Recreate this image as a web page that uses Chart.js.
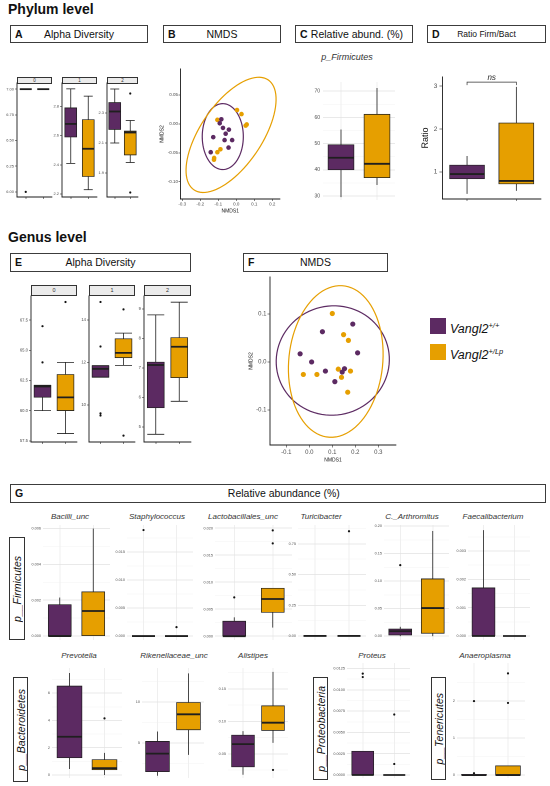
<!DOCTYPE html>
<html>
<head>
<meta charset="utf-8">
<title>Vangl2 microbiota</title>
<script src="https://cdn.jsdelivr.net/npm/chart.js@4.4.1/dist/chart.umd.min.js"></script>
<style>
  body { margin: 0; width: 550px; height: 786px; position: relative; overflow: hidden; background: #fff;
         font-family: "Liberation Sans", Arial, sans-serif; color: #111; }
  canvas { position: absolute; }
  .lvl { position: absolute; left: 8px; font-weight: bold; font-size: 14px; }
  .hdr { position: absolute; box-sizing: border-box; border: 1px solid #3c3c3c; background: #fff;
         font-size: 10.5px; text-align: center; white-space: nowrap; }
  .hdr b { position: absolute; left: 4px; font-size: 10.5px; }
  .strip { position: absolute; box-sizing: border-box; border: 0.8px solid #333; background: #ebebeb;
           text-align: center; color: #333; }
  .gt { position: absolute; font-style: italic; font-size: 8px; color: #333; transform: translateX(-50%); white-space: nowrap; }
  .ptitle { position: absolute; font-style: italic; font-size: 9px; color: #333; transform: translateX(-50%); white-space: nowrap; }
  .rowlab { position: absolute; box-sizing: border-box; border: 1px solid #333; display: flex;
            align-items: center; justify-content: center; background: #fff; }
  .rowlab span { writing-mode: vertical-rl; transform: rotate(180deg); font-style: italic; font-size: 10.5px; white-space: nowrap; }
  .leg { position: absolute; left: 430px; width: 16px; height: 16px; }
  .legt { position: absolute; left: 450px; font-style: italic; font-size: 12.5px; line-height: 16px; }
  .legt sup { font-size: 7.5px; }
</style>
</head>
<body>

<div class="lvl" style="top:1px">Phylum level</div>
<div class="hdr" style="left:10px;top:25px;width:138px;height:18px;line-height:16px"><b>A</b>Alpha Diversity</div>
<div class="hdr" style="left:163px;top:25px;width:118px;height:18px;line-height:16px"><b>B</b>NMDS</div>
<div class="hdr" style="left:295px;top:25px;width:118px;height:18px;line-height:16px"><b>C</b>&nbsp;&nbsp;Relative abund. (%)</div>
<div class="hdr" style="left:427px;top:25px;width:119px;height:18px;line-height:16px;font-size:8.5px"><b>D</b>Ratio Firm/Bact</div>

<div class="strip" style="left:17px;top:77px;width:35px;height:6.5px;font-size:4.5px;line-height:5px">0</div>
<div class="strip" style="left:62px;top:77px;width:35px;height:6.5px;font-size:4.5px;line-height:5px">1</div>
<div class="strip" style="left:107px;top:77px;width:31px;height:6.5px;font-size:4.5px;line-height:5px">2</div>
<div class="ptitle" style="left:347px;top:52px">p_Firmicutes</div>

<div class="lvl" style="top:229px">Genus level</div>
<div class="hdr" style="left:10px;top:253px;width:181px;height:19px;line-height:17px"><b>E</b>Alpha Diversity</div>
<div class="hdr" style="left:243px;top:253px;width:145px;height:19px;line-height:17px"><b>F</b>NMDS</div>

<div class="strip" style="left:31px;top:285px;width:46px;height:11px;font-size:5.5px;line-height:9px">0</div>
<div class="strip" style="left:89px;top:285px;width:46px;height:11px;font-size:5.5px;line-height:9px">1</div>
<div class="strip" style="left:144px;top:285px;width:47px;height:11px;font-size:5.5px;line-height:9px">2</div>

<div class="leg" style="top:318px;background:#5c2a62"></div>
<div class="legt" style="top:318px">Vangl2<sup>+/+</sup></div>
<div class="leg" style="top:344px;background:#e69f00"></div>
<div class="legt" style="top:344px">Vangl2<sup>+/Lp</sup></div>

<div class="hdr" style="left:10px;top:484px;width:536px;height:19px;line-height:17px"><b>G</b>&nbsp;&nbsp;&nbsp;&nbsp;Relative abundance (%)</div>

<div class="gt" style="left:70px;top:512px">Bacilli_unc</div>
<div class="gt" style="left:157px;top:512px">Staphylococcus</div>
<div class="gt" style="left:243px;top:512px">Lactobacillales_unc</div>
<div class="gt" style="left:321px;top:512px">Turicibacter</div>
<div class="gt" style="left:412px;top:512px">C._Arthromitus</div>
<div class="gt" style="left:493px;top:512px">Faecalibacterium</div>
<div class="gt" style="left:79px;top:651px">Prevotella</div>
<div class="gt" style="left:174px;top:651px">Rikenellaceae_unc</div>
<div class="gt" style="left:253px;top:651px">Alistipes</div>
<div class="gt" style="left:372px;top:651px">Proteus</div>
<div class="gt" style="left:485px;top:651px">Anaeroplasma</div>

<div class="rowlab" style="left:9px;top:537px;width:16px;height:103px"><span>p__Firmicutes</span></div>
<div class="rowlab" style="left:13px;top:677px;width:15px;height:105px"><span>p__Bacteroidetes</span></div>
<div class="rowlab" style="left:313px;top:677px;width:15px;height:103px"><span>p__Proteobacteria</span></div>
<div class="rowlab" style="left:431px;top:677px;width:15px;height:103px"><span>p__Tenericutes</span></div>

<script>
// groups: Vangl2+/+ and Vangl2+/Lp
const groups = ['wt', 'lp'];
const PURPLE = '#5c2a62';
const ORANGE = '#e69f00';

// box stats per group: [lower whisker, Q1, median, Q3, upper whisker]
// phylum level alpha diversity, facets 0 / 1 / 2
const phyAlpha0 = [[7.0, 7.0, 7.0, 7.0, 7.0], [7.0, 7.0, 7.0, 7.0, 7.0]];
const phyAlpha0Out = [[6.0], []];
const phyAlpha1 = [[2.41, 2.59, 2.68, 2.79, 2.92], [2.23, 2.32, 2.51, 2.71, 2.87]];
const phyAlpha1Out = [[], []];
const phyAlpha2 = [[2.10, 2.19, 2.31, 2.37, 2.46], [1.97, 2.02, 2.17, 2.18, 2.25]];
const phyAlpha2Out = [[], [2.43, 1.77]];

// phylum NMDS [NMDS1, NMDS2]
const phyNmdsWT = [[-0.083, 0.008], [-0.092, 0.001], [-0.074, -0.007], [-0.041, -0.010], [-0.128, -0.023],
                   [-0.059, -0.017], [-0.023, -0.028], [-0.065, -0.028], [-0.043, -0.041], [-0.142, -0.049]];
const phyNmdsLP = [[-0.105, 0.007], [0.004, 0.024], [0.029, 0.017], [0.058, -0.001], [0.052, -0.003],
                   [-0.088, -0.044], [-0.105, -0.049], [-0.123, -0.059], [-0.124, -0.062]];
// ellipses: centre, two half-axis vectors (data units)
const phyEllWT = {c: [-0.075, -0.022], u: [0.114, 0.003], v: [-0.006, 0.057]};
const phyEllLP = {c: [-0.029, -0.019], u: [0.215, 0.093], v: [-0.128, 0.036]};

const firmAbund = [[29.6, 40.0, 44.6, 49.6, 55.4], [34.2, 37.0, 42.3, 61.2, 71.2]];
const firmBactRatio = [[0.49, 0.84, 0.95, 1.16, 1.37], [0.56, 0.72, 0.79, 2.14, 2.98]];

// genus level alpha diversity
const genAlpha0 = [[60.0, 61.1, 62.0, 62.1, 62.1], [58.1, 60.0, 61.1, 63.0, 64.0]];
const genAlpha0Out = [[67.0, 64.0], [69.0]];
const genAlpha1 = [[11.3, 11.3, 11.7, 11.85, 11.85], [11.86, 12.22, 12.45, 13.12, 13.38]];
const genAlpha1Out = [[14.85, 12.75, 9.6, 9.5], [14.5, 8.55]];
const genAlpha2 = [[4.75, 5.65, 7.1, 7.2, 8.8], [5.87, 6.67, 7.72, 8.03, 9.23]];
const genAlpha2Out = [[], []];

// genus NMDS
const genNmdsWT = [[0.057, 0.063], [0.189, 0.079], [-0.040, 0.017], [0.010, 0.000], [0.070, -0.019],
                   [0.111, -0.041], [0.143, -0.021], [0.153, -0.014], [0.210, 0.019]];
const genNmdsLP = [[0.100, 0.101], [0.149, 0.057], [0.170, 0.045], [-0.026, -0.026], [0.033, -0.026],
                   [0.126, -0.015], [0.140, -0.032], [0.179, -0.019], [0.167, -0.063]];
const genEllWT = {c: [0.102, 0.003], u: [0.246, 0], v: [0.005, 0.114]};
const genEllLP = {c: [0.115, 0.001], u: [0.205, 0], v: [0.02, 0.158]};

// relative abundance of genera
const bacilli = [[0, 0, 0, 0.00176, 0.00215], [0, 0, 0.0014, 0.00247, 0.006]];
const bacilliOut = [[], []];
const staph = [[0, 0, 0, 0, 0], [0, 0, 0, 0, 0]];
const staphOut = [[0.0189], [0.0016]];
const lacto = [[0, 0, 0, 0.0028, 0.0035], [0.0016, 0.0044, 0.0069, 0.0089, 0.0089]];
const lactoOut = [[0.0072], [0.0196, 0.0172]];
const turici = [[0, 0, 0, 0, 0], [0, 0, 0, 0, 0]];
const turiciOut = [[], [0.853]];
const arthro = [[0, 0.002, 0.009, 0.013, 0.017], [0, 0.005, 0.051, 0.104, 0.191]];
const arthroOut = [[0.129], []];
const faecali = [[0, 0, 0, 0.0017, 0.00374], [0, 0, 0, 0, 0]];
const faecaliOut = [[], []];
const prevo = [[0.44, 1.26, 2.8, 6.52, 7.47], [0, 0.38, 0.5, 1.13, 1.62]];
const prevoOut = [[], [4.15]];
const riken = [[1.0, 1.5, 3.7, 5.2, 6.4], [3.55, 6.6, 8.5, 9.95, 13.5]];
const rikenOut = [[], []];
const alist = [[0.018, 0.030, 0.065, 0.079, 0.085], [0.067, 0.086, 0.098, 0.124, 0.176]];
const alistOut = [[], [0.0254]];
const proteus = [[0, 0, 0, 0.0028, 0.0028], [0, 0, 0, 0, 0]];
const proteusOut = [[0.0119, 0.0115], [0.0071, 0.0013]];
const anaero = [[0, 0, 0, 0.02, 0.02], [0, 0, 0, 0.25, 0.25]];
const anaeroOut = [[2.0, 0.05], [2.75, 1.95]];

Chart.defaults.font.family = '"Liberation Sans", Arial, sans-serif';
Chart.defaults.color = '#4d4d4d';
Chart.defaults.animation = false;
Chart.defaults.events = [];
Chart.defaults.plugins.legend.display = false;
Chart.defaults.plugins.tooltip.enabled = false;

const PAD = 8;

function makeCanvas(area, yw, xh) {
  const [l, t, r, b] = area;
  const c = document.createElement('canvas');
  const w = r - l + yw + 2 * PAD, h = b - t + xh + 2 * PAD;
  c.width = w; c.height = h;
  c.style.left = (l - yw - PAD) + 'px';
  c.style.top = (t - PAD) + 'px';
  c.style.width = w + 'px';
  c.style.height = h + 'px';
  document.body.appendChild(c);
  return c;
}

function valueAxis(o) {
  const major = o.ticks, minor = o.minor || [];
  const minimal = o.theme === 'minimal';
  return {
    type: 'linear', min: o.range[0], max: o.range[1],
    afterBuildTicks: s => { s.ticks = major.concat(minor).sort((a, b) => a - b).map(v => ({value: v})); },
    afterFit: s => { if (s.isHorizontal()) s.height = o.size; else s.width = o.size; },
    ticks: {
      autoSkip: false, maxRotation: 0, padding: o.tpad ?? 1, font: {size: o.fs}, color: '#4d4d4d',
      callback: v => major.includes(v) ? v.toFixed(o.dec) : ''
    },
    grid: minimal
      ? {drawTicks: false, color: c => (c.tick && major.includes(c.tick.value)) ? '#e2e2e2' : '#f0f0f0',
         lineWidth: c => (c.tick && major.includes(c.tick.value)) ? 0.7 : 0.4}
      : {drawOnChartArea: false, tickLength: o.tl || 2, color: '#333', lineWidth: 0.6},
    border: minimal ? {display: false} : {display: true, color: '#1a1a1a', width: 0.9},
    title: o.title ? {display: true, text: o.title, font: {size: o.tfs}, color: '#111', padding: 0} : {display: false}
  };
}

const boxLines = {
  id: 'boxLines',
  afterDatasetsDraw(chart, args, opts) {
    const {ctx} = chart, x = chart.scales.x, y = chart.scales.y;
    const seg = (x0, y0, x1, y1, w) => {
      ctx.lineWidth = w; ctx.beginPath(); ctx.moveTo(x0, y0); ctx.lineTo(x1, y1); ctx.stroke();
    };
    ctx.save();
    ctx.strokeStyle = '#1f1f1f';
    opts.stats.forEach((s, i) => {
      const px = x.getPixelForValue(i);
      const py = s.map(v => y.getPixelForValue(v));
      seg(px, py[0], px, py[1], 0.8);
      seg(px, py[3], px, py[4], 0.8);
      if (opts.cap) {
        const h = opts.cap / 2;
        seg(px - h, py[0], px + h, py[0], 0.8);
        seg(px - h, py[4], px + h, py[4], 0.8);
      }
      seg(px - opts.width / 2, py[2], px + opts.width / 2, py[2], 1.8);
    });
    ctx.restore();
  }
};

const nsBracket = {
  id: 'nsBracket',
  afterDraw(chart, args, o) {
    if (!o.label) return;
    const {ctx} = chart, x = chart.scales.x, y = chart.scales.y;
    const x0 = x.getPixelForValue(0), x1 = x.getPixelForValue(1);
    const yb = y.getPixelForValue(o.y), yt = y.getPixelForValue(o.y - o.drop);
    ctx.save();
    ctx.strokeStyle = '#333'; ctx.lineWidth = 0.7;
    ctx.beginPath(); ctx.moveTo(x0, yt); ctx.lineTo(x0, yb); ctx.lineTo(x1, yb); ctx.lineTo(x1, yt); ctx.stroke();
    ctx.font = 'italic 8px "Liberation Sans", Arial';
    ctx.fillStyle = '#222'; ctx.textAlign = 'center'; ctx.textBaseline = 'bottom';
    ctx.fillText(o.label, (x0 + x1) / 2, yb - 0.5);
    ctx.restore();
  }
};

const ellipses = {
  id: 'ellipses',
  beforeDatasetsDraw(chart, args, opts) {
    const {ctx} = chart, x = chart.scales.x, y = chart.scales.y;
    ctx.save();
    ctx.lineWidth = 1.2;
    opts.list.forEach(e => {
      ctx.strokeStyle = e.color;
      ctx.beginPath();
      for (let k = 0; k <= 90; k++) {
        const t = k / 90 * Math.PI * 2;
        const dx = e.c[0] + Math.cos(t) * e.u[0] + Math.sin(t) * e.v[0];
        const dy = e.c[1] + Math.cos(t) * e.u[1] + Math.sin(t) * e.v[1];
        const px = x.getPixelForValue(dx), py = y.getPixelForValue(dy);
        if (k === 0) ctx.moveTo(px, py); else ctx.lineTo(px, py);
      }
      ctx.stroke();
    });
    ctx.restore();
  }
};

function boxChart(area, stats, outs, o) {
  const xh = o.xh ?? 3;
  const canvas = makeCanvas(area, o.yw, xh);
  const minimal = o.theme === 'minimal';
  const pts = [];
  outs.forEach((arr, g) => arr.forEach(v => pts.push({x: groups[g], y: v})));
  new Chart(canvas, {
    type: 'bar',
    data: {
      labels: groups,
      datasets: [{
        data: stats.map(s => [s[1], s[3]]),
        backgroundColor: [PURPLE, ORANGE],
        borderColor: '#1f1f1f', borderWidth: 0.8, borderSkipped: false,
        barThickness: o.bw
      }, {
        type: 'scatter', data: pts, pointRadius: 1.1, backgroundColor: '#111', borderWidth: 0
      }]
    },
    options: {
      responsive: false, devicePixelRatio: 2,
      layout: {padding: PAD, autoPadding: false},
      scales: {
        x: {
          offset: true,
          ticks: {display: false},
          grid: minimal
            ? {offset: false, drawTicks: false, color: '#e4e4e4', lineWidth: 0.6}
            : {offset: false, drawOnChartArea: false, tickLength: 2, color: '#333', lineWidth: 0.6},
          border: minimal ? {display: false} : {display: true, color: '#1a1a1a', width: 0.9},
          afterFit: s => { s.height = xh; }
        },
        y: valueAxis(Object.assign({size: o.yw}, o))
      },
      plugins: {
        boxLines: {stats: stats, width: o.bw, cap: o.cap || 0},
        nsBracket: o.ns || {}
      }
    },
    plugins: [boxLines, nsBracket]
  });
}

function nmdsChart(area, wt, lp, ells, o) {
  const canvas = makeCanvas(area, o.yw, o.xh);
  new Chart(canvas, {
    type: 'scatter',
    data: {
      datasets: [
        {data: wt.map(p => ({x: p[0], y: p[1]})), backgroundColor: PURPLE, pointRadius: o.pr, borderWidth: 0},
        {data: lp.map(p => ({x: p[0], y: p[1]})), backgroundColor: ORANGE, pointRadius: o.pr, borderWidth: 0}
      ]
    },
    options: {
      responsive: false, devicePixelRatio: 2,
      layout: {padding: PAD, autoPadding: false},
      scales: {
        x: valueAxis(Object.assign({size: o.xh}, o.x)),
        y: valueAxis(Object.assign({size: o.yw}, o.y))
      },
      plugins: {
        ellipses: {list: [Object.assign({color: PURPLE}, ells[0]), Object.assign({color: ORANGE}, ells[1])]}
      }
    },
    plugins: [ellipses]
  });
}

// ---- A: phylum alpha diversity
const aOpt = {yw: 14, fs: 4, bw: 12, cap: 9};
boxChart([17, 83, 52, 197], phyAlpha0, phyAlpha0Out,
  Object.assign({range: [5.95, 7.06], ticks: [6.0, 6.25, 6.5, 6.75, 7.0], dec: 2}, aOpt));
boxChart([62, 83, 97, 197], phyAlpha1, phyAlpha1Out,
  Object.assign({range: [2.18, 2.96], ticks: [2.2, 2.4, 2.6, 2.8], dec: 1}, aOpt));
boxChart([107, 83, 138, 197], phyAlpha2, phyAlpha2Out,
  Object.assign({range: [1.74, 2.5], ticks: [1.9, 2.1, 2.3], dec: 1}, aOpt));

// ---- B: phylum NMDS
nmdsChart([180, 69, 280, 199], phyNmdsWT, phyNmdsLP, [phyEllWT, phyEllLP], {
  yw: 21.5, xh: 15, pr: 2.3,
  x: {range: [-0.31, 0.243], ticks: [-0.3, -0.2, -0.1, 0, 0.1, 0.2], dec: 1, fs: 4.5, tl: 2, tpad: 0.5, title: 'NMDS1', tfs: 5},
  y: {range: [-0.13, 0.095], ticks: [-0.1, -0.05, 0, 0.05], dec: 2, fs: 4.5, tl: 2, tpad: 0.5, title: 'NMDS2', tfs: 5}
});

// ---- C: relative abundance Firmicutes
boxChart([323, 82, 395, 200], firmAbund, [[], []], {
  theme: 'minimal', yw: 14, fs: 5, bw: 26, range: [28.5, 73.5],
  ticks: [30, 40, 50, 60, 70], minor: [35, 45, 55, 65], dec: 0, tpad: 3
});

// ---- D: Firmicutes / Bacteroidetes ratio
boxChart([442, 77, 541, 199], firmBactRatio, [[], []], {
  yw: 22.4, fs: 6.5, bw: 35, range: [0.37, 3.21], ticks: [1, 2, 3], dec: 0, tl: 3, tpad: 2,
  title: 'Ratio', tfs: 9, ns: {label: 'ns', y: 3.09, drop: 0.07}
});

// ---- E: genus alpha diversity
const eOpt = {yw: 20, fs: 4.2, bw: 17, cap: 17};
boxChart([31, 296, 77, 442], genAlpha0, genAlpha0Out,
  Object.assign({range: [57.4, 69.5], ticks: [57.5, 60, 62.5, 65, 67.5], dec: 1}, eOpt));
boxChart([89, 296, 135, 442], genAlpha1, genAlpha1Out,
  Object.assign({range: [8.25, 15.13], ticks: [10, 12, 14], dec: 0}, eOpt));
boxChart([144, 296, 191, 442], genAlpha2, genAlpha2Out,
  Object.assign({range: [4.49, 9.44], ticks: [5, 6, 7, 8, 9], dec: 0}, eOpt));

// ---- F: genus NMDS
nmdsChart([270, 277, 396, 445], genNmdsWT, genNmdsLP, [genEllWT, genEllLP], {
  yw: 22, xh: 18, pr: 2.6,
  x: {range: [-0.171, 0.377], ticks: [-0.1, 0, 0.1, 0.2, 0.3], dec: 1, fs: 6, tl: 2.5, tpad: 1, title: 'NMDS1', tfs: 5},
  y: {range: [-0.173, 0.177], ticks: [-0.1, 0, 0.1], dec: 1, fs: 6, tl: 2.5, tpad: 1, title: 'NMDS2', tfs: 5}
});

// ---- G: genus relative abundance
const gOpt = {theme: 'minimal', yw: 18, fs: 3.8, tpad: 2};
boxChart([43, 525, 110, 640], bacilli, bacilliOut, Object.assign({bw: 23, range: [-0.00022, 0.0062],
  ticks: [0, 0.002, 0.004, 0.006], minor: [0.001, 0.003, 0.005], dec: 3}, gOpt));
boxChart([127, 525, 193, 640], staph, staphOut, Object.assign({bw: 23, range: [-0.0007, 0.0198],
  ticks: [0, 0.005, 0.01, 0.015], minor: [0.0025, 0.0075, 0.0125, 0.0175], dec: 3}, gOpt));
boxChart([215, 525, 292, 640], lacto, lactoOut, Object.assign({bw: 23, range: [-0.0007, 0.0206],
  ticks: [0, 0.005, 0.01, 0.015, 0.02], minor: [0.0025, 0.0075, 0.0125, 0.0175], dec: 3}, gOpt));
boxChart([298, 525, 366, 640], turici, turiciOut, Object.assign({bw: 23, range: [-0.033, 0.904],
  ticks: [0, 0.25, 0.5, 0.75], minor: [0.125, 0.375, 0.625, 0.875], dec: 2}, gOpt));
boxChart([384, 525, 449, 640], arthro, arthroOut, Object.assign({bw: 23, range: [-0.007, 0.2018],
  ticks: [0, 0.05, 0.1, 0.15, 0.2], minor: [0.025, 0.075, 0.125, 0.175], dec: 2}, gOpt));
boxChart([468, 525, 530, 640], faecali, faecaliOut, Object.assign({bw: 23, range: [-0.00014, 0.00392],
  ticks: [0, 0.001, 0.002, 0.003], minor: [0.0005, 0.0015, 0.0025, 0.0035], dec: 3}, gOpt));
boxChart([52, 668, 122, 778], prevo, prevoOut, Object.assign({bw: 25, range: [-0.22, 7.84],
  ticks: [0, 2, 4, 6], minor: [1, 3, 5, 7], dec: 0}, gOpt));
boxChart([142, 668, 204, 778], riken, rikenOut, Object.assign({bw: 24, range: [0.73, 14.15],
  ticks: [5, 10], minor: [2.5, 7.5, 12.5], dec: 0}, gOpt));
boxChart([228, 668, 288, 778], alist, alistOut, Object.assign({bw: 23, range: [0.013, 0.182],
  ticks: [0.05, 0.1, 0.15], minor: [0.025, 0.075, 0.125, 0.175], dec: 2}, gOpt));
boxChart([347, 663, 410, 778], proteus, proteusOut, Object.assign({bw: 22, range: [-0.00035, 0.01315],
  ticks: [0, 0.0025, 0.005, 0.0075, 0.01, 0.0125], minor: [0.00125, 0.00375, 0.00625, 0.00875, 0.01125], dec: 4}, gOpt));
boxChart([457, 663, 525, 778], anaero, anaeroOut, Object.assign({bw: 25, range: [-0.08, 3.03],
  ticks: [0, 1, 2], minor: [0.5, 1.5, 2.5], dec: 0}, gOpt));
</script>
</body>
</html>
